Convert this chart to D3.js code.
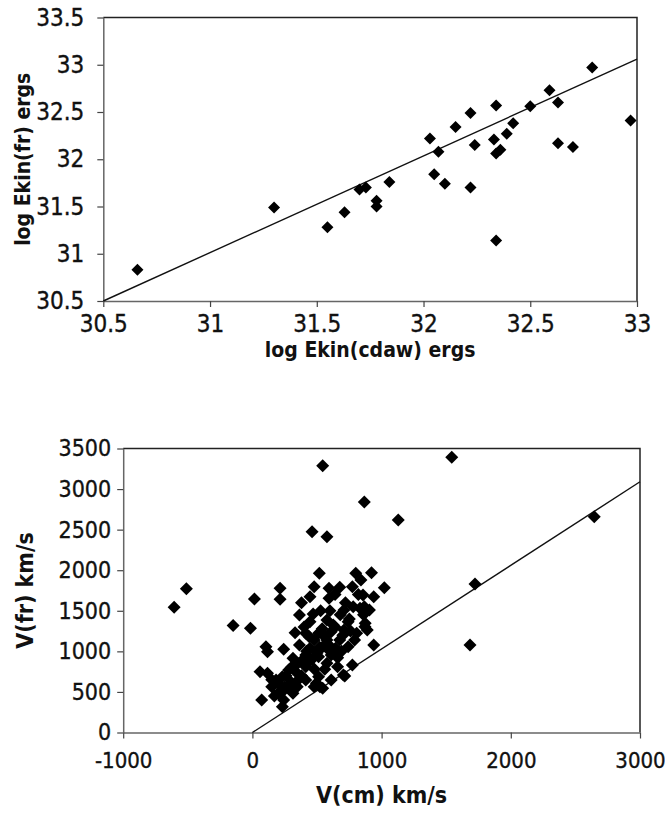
<!DOCTYPE html>
<html>
<head>
<meta charset="utf-8">
<script src="https://cdn.jsdelivr.net/npm/d3@7"></script>
<style>
  html, body { margin: 0; padding: 0; background: #fff; }
  svg { display: block; }
  .tick text { font-family: "Liberation Sans Narrow", "Arial Narrow", "DejaVu Sans Condensed", sans-serif; fill: #111; stroke: #111; stroke-width: 0.35px; }
  .title { font-family: "Liberation Sans Narrow", "Arial Narrow", "DejaVu Sans Condensed", sans-serif; font-weight: bold; fill: #111; }
</style>
</head>
<body>
<svg id="chart" width="665" height="814"></svg>
<script>
// ---------- Top chart data: log kinetic energy ----------
const ekinCdaw = [30.66, 31.30, 31.55, 31.63, 31.70, 31.73, 31.78, 31.78, 31.84, 32.03, 32.07, 32.05, 32.10, 32.15, 32.22, 32.24, 32.22, 32.34, 32.33, 32.34, 32.36, 32.39, 32.42, 32.34, 32.50, 32.59, 32.63, 32.63, 32.70, 32.79, 32.97];
const ekinFr   = [30.83, 31.49, 31.28, 31.44, 31.68, 31.70, 31.56, 31.50, 31.76, 32.22, 32.08, 31.84, 31.74, 32.34, 32.49, 32.15, 31.70, 32.57, 32.21, 32.06, 32.10, 32.27, 32.38, 31.14, 32.56, 32.73, 32.60, 32.17, 32.13, 32.97, 32.41];
const ekinTrendX = [30.5, 33.0];
const ekinTrendY = [30.5, 33.06];
const ekinTicks = [30.5, 31, 31.5, 32, 32.5, 33, 33.5];

// ---------- Bottom chart data: velocities ----------
const vCm = [1543, 2646, 1723, 1684, 544, 866, 1129, 462, 577, -606, -511, -149, -15, 16,
  214, 214, 105, 117, 242, 59, 72,
  518, 800, 922, 840, 478, 593, 676, 593, 774, 1021, 856, 939,
  380, 528, 709, 866, 906, 364, 446, 577, 626, 741, 873, 889,
  330, 413, 512, 610, 709, 807, 791, 364, 446, 544, 643, 676, 577, 478, 939, 741,
  314, 413, 512, 610, 659, 577, 413, 281, 774, 117, 183, 232, 347, 413, 512, 495, 715, 610,
  150, 199, 242, 314, 347, 232, 544, 478, 704, 523, 446, 871, 833,
  250, 300, 350, 380, 420, 460, 480, 520, 560, 600, 640, 680, 700, 720, 750, 780, 820, 660, 560, 440,
  380, 300, 200, 170, 260, 600, 640, 860, 760, 540, 470, 400, 690, 590, 500, 430, 350, 280, 230, 150];
const vFr = [3392, 2660, 1830, 1078, 3288, 2840, 2619, 2475, 2413, 1543, 1773, 1320, 1285, 1645,
  1777, 1641, 1058, 996, 1025, 750, 400,
  1962, 1962, 1970, 1880, 1797, 1777, 1789, 1654, 1797, 1785, 1695, 1674,
  1600, 1501, 1510, 1550, 1510, 1448, 1366, 1387, 1325, 1366, 1346, 1263,
  1230, 1222, 1222, 1242, 1263, 1222, 1140, 1078, 1037, 1057, 1037, 1140, 1140, 1140, 1078, 1057,
  914, 955, 934, 955, 811, 853, 811, 770, 832, 730, 647, 688, 730, 647, 688, 606, 696, 647,
  565, 483, 400, 483, 565, 318, 545, 565, 709, 564, 1674, 1304, 1530,
  560, 620, 850, 700, 1000, 900, 780, 1050, 1180, 1000, 1300, 1450, 1200, 1600, 1400, 1550, 1700, 920, 780, 1180,
  880, 800, 600, 450, 700, 1500, 1700, 1450, 1250, 1280, 1460, 1300, 1000, 1080, 980, 860, 640, 550, 500, 650];
const vTrendX = [0, 3000];
const vTrendY = [0, 3090];
const vXTicks = [-1000, 0, 1000, 2000, 3000];
const vYTicks = [0, 500, 1000, 1500, 2000, 2500, 3000, 3500];

const svg = d3.select("#chart");
const diamond = (r) => `M0,${-r}L${r},0L0,${r}L${-r},0Z`;

function drawPanel(cfg) {
  const x = d3.scaleLinear().domain(cfg.xDomain).range([cfg.left, cfg.right]);
  const y = d3.scaleLinear().domain(cfg.yDomain).range([cfg.bottom, cfg.top]);
  const g = svg.append("g");

  // frame (top & right)
  g.append("path")
    .attr("d", `M${cfg.left},${cfg.top}H${cfg.right}V${cfg.bottom}`)
    .attr("fill", "none").attr("stroke", "#222").attr("stroke-width", 1.5);

  const fmt = d => String(d);
  const xAxis = g.append("g").attr("transform", `translate(0,${cfg.bottom})`)
    .call(d3.axisBottom(x).tickValues(cfg.xTicks).tickFormat(fmt).tickSizeInner(6).tickSizeOuter(0).tickPadding(cfg.xPad));
  const yAxis = g.append("g").attr("transform", `translate(${cfg.left},0)`)
    .call(d3.axisLeft(y).tickValues(cfg.yTicks).tickFormat(fmt).tickSizeInner(6).tickSizeOuter(0).tickPadding(cfg.yPad));
  [xAxis, yAxis].forEach(a => {
    a.select(".domain").attr("stroke", "#666").attr("stroke-width", 1.5);
    a.selectAll(".tick line").attr("stroke", "#444").attr("stroke-width", 1.2);
  });
  xAxis.selectAll(".tick text").style("font-size", cfg.xTickFont + "px");
  yAxis.selectAll(".tick text").style("font-size", cfg.yTickFont + "px");

  // trend line
  const line = d3.line().x(d => x(d[0])).y(d => y(d[1]));
  g.append("path").datum(d3.zip(cfg.trendX, cfg.trendY))
    .attr("d", line).attr("fill", "none").attr("stroke", "#111").attr("stroke-width", 1.4);

  // points
  g.append("g").selectAll("path").data(d3.zip(cfg.xs, cfg.ys)).join("path")
    .attr("transform", d => `translate(${x(d[0])},${y(d[1])})`)
    .attr("d", diamond(cfg.r)).attr("fill", "#000");

  // titles
  g.append("text").attr("class", "title")
    .attr("x", (cfg.left + cfg.right) / 2).attr("y", cfg.xTitleY)
    .attr("text-anchor", "middle").style("font-size", cfg.titleFont + "px").text(cfg.xTitle);
  g.append("text").attr("class", "title")
    .attr("transform", `translate(${cfg.yTitleX},${(cfg.top + cfg.bottom) / 2}) rotate(-90)`)
    .attr("text-anchor", "middle").style("font-size", cfg.titleFont + "px").text(cfg.yTitle);
}

drawPanel({
  xs: ekinCdaw, ys: ekinFr, trendX: ekinTrendX, trendY: ekinTrendY,
  xDomain: [30.5, 33], yDomain: [30.5, 33.5],
  xTicks: ekinTicks.slice(0, 6), yTicks: ekinTicks,
  left: 103.3, right: 637, top: 17.5, bottom: 301,
  xPad: 8, yPad: 13, xTickFont: 24, yTickFont: 24, titleFont: 21, r: 6,
  xTitle: "log Ekin(cdaw) ergs", yTitle: "log Ekin(fr) ergs",
  xTitleY: 357, yTitleX: 30
});

drawPanel({
  xs: vCm, ys: vFr, trendX: vTrendX, trendY: vTrendY,
  xDomain: [-1000, 3000], yDomain: [0, 3500],
  xTicks: vXTicks, yTicks: vYTicks,
  left: 123.2, right: 640, top: 448.5, bottom: 732.5,
  xPad: 14, yPad: 6, xTickFont: 22, yTickFont: 23, titleFont: 23, r: 6.5,
  xTitle: "V(cm) km/s", yTitle: "V(fr) km/s",
  xTitleY: 803, yTitleX: 33
});
</script>
</body>
</html>
